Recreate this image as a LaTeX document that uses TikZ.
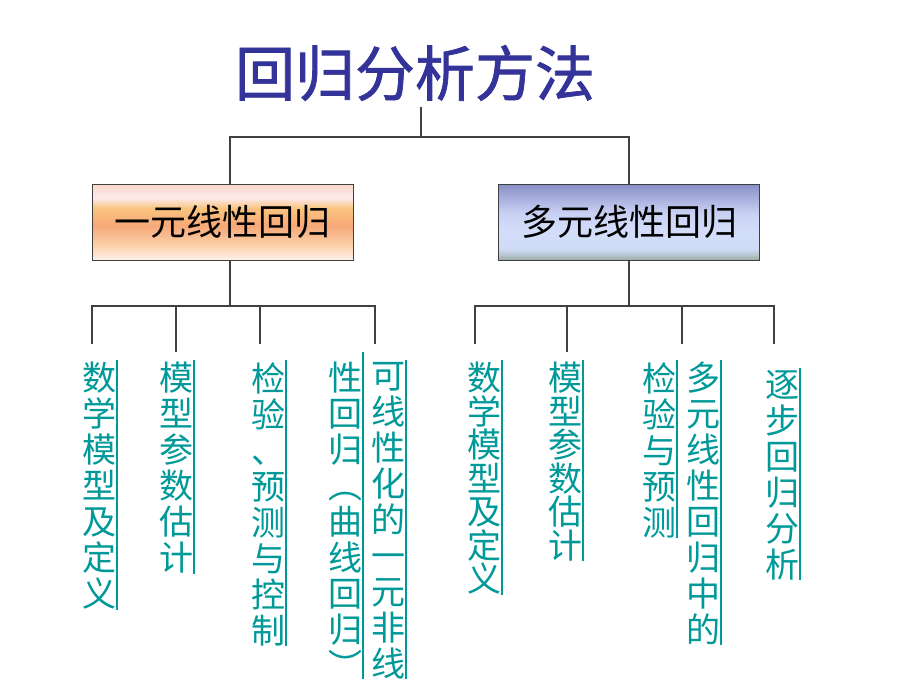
\documentclass[tikz,border=0pt]{standalone}
\usepackage{fontspec}
\newfontfamily\cjk{Noto Sans CJK SC}
\newfontfamily\cjktitle[FakeBold=1.2]{Noto Sans CJK SC}
\usetikzlibrary{calc}
\definecolor{titleblue}{RGB}{51,51,153}
\definecolor{tealtext}{RGB}{0,153,153}
\definecolor{linegrey}{RGB}{64,64,64}
\definecolor{or1}{HTML}{F8D8C6}
\definecolor{or2}{HTML}{FDEAEE}
\definecolor{or3}{HTML}{F9C47E}
\definecolor{or4}{HTML}{F7A878}
\definecolor{or5}{HTML}{FAD0A8}
\definecolor{or6}{HTML}{FDF0EA}
\definecolor{bl1}{HTML}{888EC6}
\definecolor{bl2}{HTML}{A8AEDD}
\definecolor{bl3}{HTML}{C8D1F3}
\definecolor{bl4}{HTML}{D3DDFA}
\definecolor{bl5}{HTML}{D0DCF6}
\definecolor{bl6}{HTML}{B8C6D0}
\definecolor{bl7}{HTML}{98ABA2}
\pgfdeclareverticalshading{orangebox}{100bp}{color(0bp)=(or6); color(25bp)=(or6); color(35bp)=(or5); color(47.5bp)=(or4); color(59bp)=(or3); color(66bp)=(or2); color(75bp)=(or1); color(100bp)=(or1)}
\pgfdeclareverticalshading{bluebox}{100bp}{color(0bp)=(bl7); color(25bp)=(bl7); color(28.5bp)=(bl6); color(32.5bp)=(bl5); color(45bp)=(bl4); color(56bp)=(bl3); color(66bp)=(bl2); color(75bp)=(bl1); color(100bp)=(bl1)}
\tikzset{
  conn/.style={draw=linegrey, line width=1.2pt},
  branchbox/.style={draw=linegrey, line width=1pt, minimum width=261pt, minimum height=76pt, inner sep=0pt,
    font=\cjk\fontsize{36}{38}\selectfont, text=black},
  vcol/.style={align=center, inner sep=0pt, anchor=north, text=tealtext,
    font=\cjk\fontsize{34}{36}\selectfont},
  vcolt/.style={align=center, inner sep=0pt, anchor=north, text=tealtext,
    font=\cjk\fontsize{34}{33.5}\selectfont},
  tealline/.style={draw=tealtext, line width=1.5pt}
}
\begin{document}
\begin{tikzpicture}[x=1pt,y=-1pt]
\useasboundingbox[fill=white] (0,0) rectangle (920,690);
% title
\node[font=\cjktitle\fontsize{60}{64}\selectfont, text=titleblue, inner sep=0pt] (title) at (415,73) {回归分析方法};
% branch boxes
\node[branchbox, shading=orangebox] (b1) at (222.5,222) {一元线性回归};
\node[branchbox, shading=bluebox] (b2) at (629,222) {多元线性回归};
% top tree
\coordinate (t0) at (421,107);
\coordinate (j1) at (421,137);
\draw[conn] (t0) -- (j1);
\draw[conn] (j1) -| ([xshift=7.5pt]b1.north);
\draw[conn] (j1) -| (b2.north);
% left subtree
\coordinate (h1) at (230,306);
\coordinate (tk1) at (92,344);
\coordinate (tk2) at (176,352);
\coordinate (tk3) at (260,344);
\coordinate (tk4) at (375,344);
\draw[conn] ([xshift=7.5pt]b1.south) -- (h1);
\draw[conn] (tk1) |- (h1) -| (tk4);
\draw[conn] (tk2) -- (tk2 |- h1);
\draw[conn] (tk3) -- (tk3 |- h1);
% right subtree
\coordinate (h2) at (629,306);
\coordinate (tk5) at (475,344);
\coordinate (tk6) at (567,352);
\coordinate (tk7) at (682,344);
\coordinate (tk8) at (774,344);
\draw[conn] (b2.south) -- (h2);
\draw[conn] (tk5) |- (h2) -| (tk8);
\draw[conn] (tk6) -- (tk6 |- h2);
\draw[conn] (tk7) -- (tk7 |- h2);
% vertical text columns
\node[vcol] (c1) at (99,362) {数\\学\\模\\型\\及\\定\\义};
\node[vcol] (c2) at (176,362) {模\\型\\参\\数\\估\\计};
\node[vcol] (c3) at (268,362) {检\\验\\、\\预\\测\\与\\控\\制};
\node[vcol] (c4) at (345,362) {性\\回\\归\\︵\\曲\\线\\回\\归\\︶};
\node[vcol] (c5) at (388,362) {可\\线\\性\\化\\的\\一\\元\\非\\线};
\node[vcolt] (c6) at (484,362) {数\\学\\模\\型\\及\\定\\义};
\node[vcolt] (c7) at (565,362) {模\\型\\参\\数\\估\\计};
\node[vcol] (c8) at (659,362) {检\\验\\与\\预\\测};
\node[vcol] (c9) at (703,362) {多\\元\\线\\性\\回\\归\\中\\的};
\node[vcol] (c10) at (782,370) {逐\\步\\回\\归\\分\\析};
\foreach \c in {c1,c2,c3,c5,c6,c7,c8,c9,c10}{
  \draw[tealline] ([xshift=1pt,yshift=2pt]\c.north east) -- ([xshift=1pt]\c.south east);
}
\draw[tealline] ([xshift=1pt,yshift=10pt]c4.north east) -- ([xshift=1pt]c4.south east);
\end{tikzpicture}
\end{document}
